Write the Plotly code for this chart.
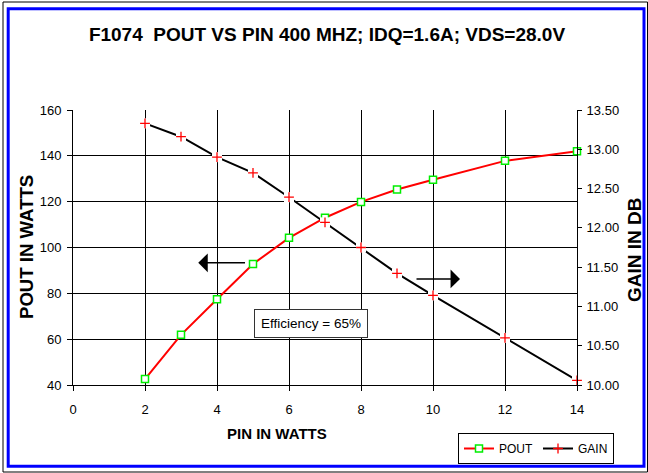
import plotly.graph_objects as go

# ---- data ----
pin_watts = [2, 3, 4, 5, 6, 7, 8, 9, 10, 12, 14]
pout_watts = [42.6, 61.9, 77.4, 92.8, 104.2, 113.0, 119.9, 125.3, 129.6, 137.8, 142.0]
gain_db = [13.33, 13.16, 12.90, 12.70, 12.39, 12.07, 11.75, 11.42, 11.14, 10.60, 10.06]

chart_title = "F1074  POUT VS PIN 400 MHZ; IDQ=1.6A; VDS=28.0V"
x_title = "PIN IN WATTS"
y_title = "POUT IN WATTS"
y2_title = "GAIN IN DB"
note_text = "Efficiency = 65%"

FONT = "Liberation Sans, Arial, Helvetica, sans-serif"
W, H = 648, 473
PL, PR, PT, PB = 73, 577, 110, 385


def px(x):
    return (x - PL) / (PR - PL)


def py(y):
    return (PB - y) / (PB - PT)


fig = go.Figure()

fig.add_trace(go.Scatter(
    x=pin_watts, y=pout_watts, name="POUT", mode="lines+markers",
    line=dict(color="#ff0000", width=2),
    marker=dict(symbol="square", size=7, color="white",
                line=dict(color="#00ee00", width=1.5)),
    cliponaxis=False,
))

# gain line with white halo behind the markers
fig.add_trace(go.Scatter(
    x=pin_watts, y=gain_db, yaxis="y2", mode="lines+markers", showlegend=False,
    line=dict(color="black", width=2),
    marker=dict(symbol="square", size=10, color="white", line=dict(width=0)),
    cliponaxis=False, hoverinfo="skip",
))
fig.add_trace(go.Scatter(
    x=pin_watts, y=gain_db, yaxis="y2", mode="markers", showlegend=False,
    marker=dict(symbol="cross-thin", size=7, line=dict(color="#ff0000", width=1.3)),
    cliponaxis=False, name="GAIN",
))
# legend entry for gain
fig.add_trace(go.Scatter(
    x=[None], y=[None], yaxis="y2", name="GAIN", mode="lines+markers",
    line=dict(color="black", width=2),
    marker=dict(symbol="cross-thin", size=7, line=dict(color="#ff0000", width=1.3)),
))

axis_common = dict(
    showline=True, linecolor="black", linewidth=1,
    ticks="outside", tickcolor="black", tickwidth=1,
    tickfont=dict(family=FONT, size=13, color="black"),
    zeroline=False,
)

fig.update_layout(
    width=W, height=H,
    margin=dict(l=PL, r=W - PR, t=PT, b=H - PB, autoexpand=False),
    paper_bgcolor="white", plot_bgcolor="white",
    font=dict(family=FONT, color="black"),
    title=dict(text="<b>" + chart_title + "</b>", xref="paper", x=px(327), xanchor="center",
               yref="container", y=1 - 34 / H, yanchor="middle",
               font=dict(family=FONT, size=19, color="black")),
    xaxis=dict(range=[0, 14], dtick=2, tick0=0, showgrid=True, gridcolor="black",
               gridwidth=1, ticklen=5, ticklabelstandoff=7, **axis_common),
    yaxis=dict(range=[40, 160], dtick=20, tick0=40, showgrid=True, gridcolor="black",
               gridwidth=1, ticklen=5, ticklabelstandoff=3, **axis_common),
    yaxis2=dict(range=[10, 13.5], dtick=0.5, tick0=10, tickformat=".2f",
                overlaying="y", side="right", showgrid=False, ticklen=4,
                ticklabelstandoff=2, **axis_common),
    legend=dict(orientation="h", x=px(614), xanchor="right", y=py(433), yanchor="top",
                bordercolor="black", borderwidth=1, bgcolor="white",
                font=dict(family=FONT, size=12, color="black"),
                itemwidth=30, tracegroupgap=0),
    showlegend=True,
)

annotations = [
    dict(text="<b>" + x_title + "</b>", xref="paper", yref="paper", x=px(277), y=py(433),
         showarrow=False, font=dict(family=FONT, size=15, color="black"),
         xanchor="center", yanchor="middle"),
    dict(text="<b>" + y_title + "</b>", xref="paper", yref="paper", x=px(26), y=py(247),
         showarrow=False, textangle=-90, font=dict(family=FONT, size=18.6, color="black"),
         xanchor="center", yanchor="middle"),
    dict(text="<b>" + y2_title + "</b>", xref="paper", yref="paper", x=px(635), y=py(250),
         showarrow=False, textangle=-90, font=dict(family=FONT, size=19, color="black"),
         xanchor="center", yanchor="middle"),
    dict(text=note_text, xref="x", yref="y", x=6.61, y=66.7, showarrow=False,
         font=dict(family=FONT, size=13.5, color="black"), bgcolor="white",
         bordercolor="#333333", borderwidth=1, borderpad=6,
         xanchor="center", yanchor="middle"),
    # arrow pointing to left axis
    dict(text="", xref="x", yref="y", axref="x", ayref="y", x=3.48, y=93.3, ax=4.82, ay=93.3,
         showarrow=True, arrowhead=1, arrowsize=2.1, arrowwidth=1.5, arrowcolor="black",
         standoff=0),
    # arrow pointing to right axis
    dict(text="", xref="x", yref="y", axref="x", ayref="y", x=10.75, y=86.3, ax=9.5, ay=86.3,
         showarrow=True, arrowhead=1, arrowsize=2.1, arrowwidth=1.5, arrowcolor="black",
         standoff=0),
]
fig.update_layout(annotations=annotations)

shapes = [
    dict(type="rect", xref="paper", yref="paper", x0=px(3), x1=px(647.5), y0=py(472), y1=py(2),
         line=dict(color="black", width=1), fillcolor="rgba(0,0,0,0)", layer="above"),
    dict(type="rect", xref="paper", yref="paper", x0=px(8.2), x1=px(644), y0=py(466.3), y1=py(8.7),
         line=dict(color="#0000ff", width=3), fillcolor="rgba(0,0,0,0)", layer="above"),
]
fig.update_layout(shapes=shapes)

fig.write_html(
    "out.html",
    config={"displayModeBar": False},
    post_script="document.body.style.margin='0';document.body.style.padding='0';"
                "document.body.style.overflow='hidden';",
)
